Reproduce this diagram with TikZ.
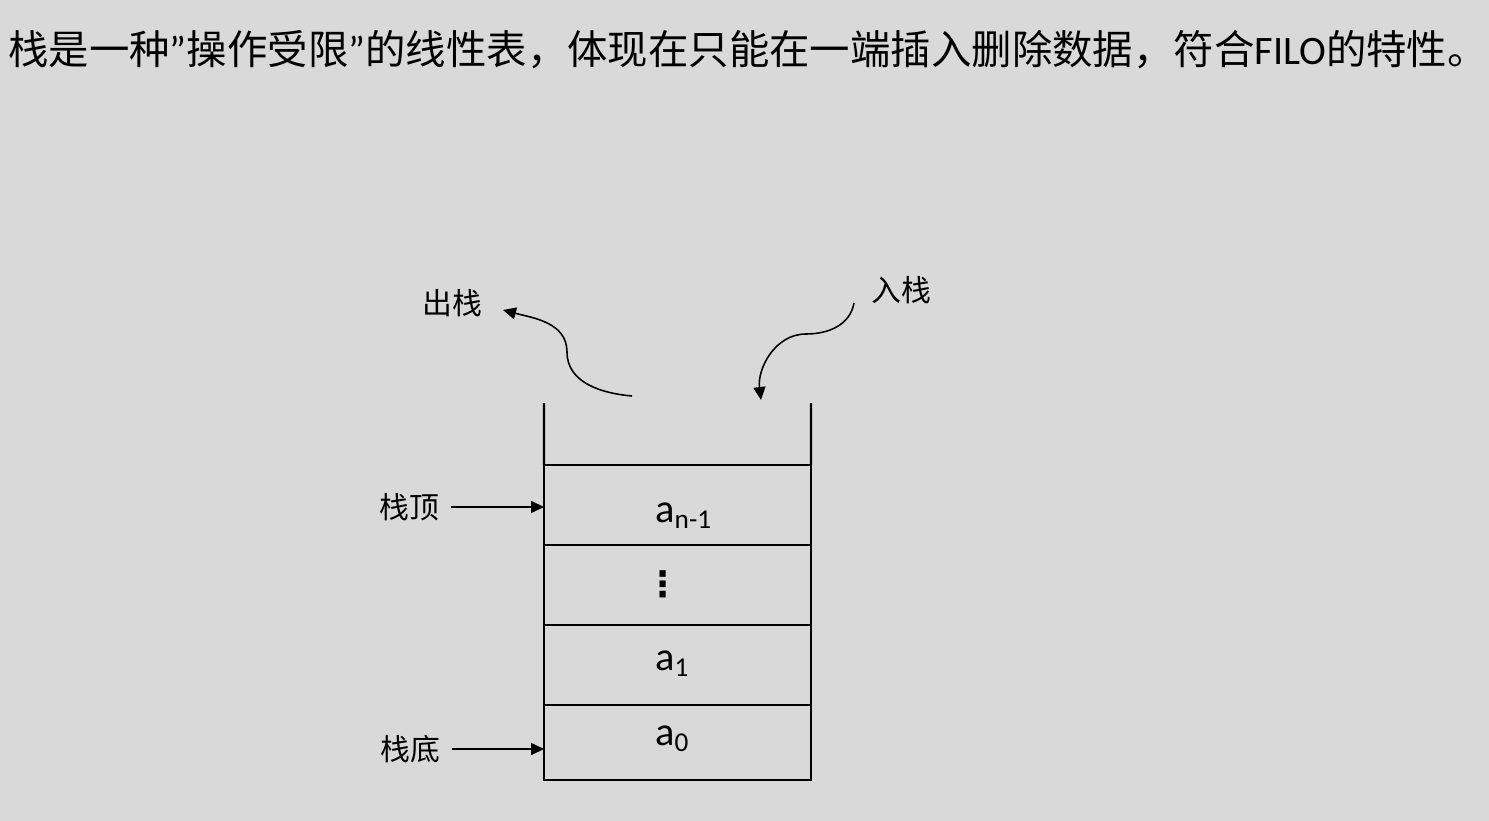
\documentclass[tikz,border=0pt]{standalone}
\usepackage{fontspec}
\setmainfont{Carlito}
\newfontfamily\cjk{Noto Sans CJK SC}
\newfontfamily\symfont{DejaVu Sans}
\usetikzlibrary{arrows.meta}
\definecolor{bgray}{HTML}{D9D9D9}

\begin{document}
\begin{tikzpicture}[x=0.02cm,y=-0.02cm,
  cell/.style={draw,line width=1.2pt,inner sep=0pt,outer sep=0pt,minimum width=5.34cm,minimum height=1.6cm},
  push/.style={line width=0.9pt,-{Triangle[length=2.6mm,width=2.4mm]}},
  lab/.style={font=\cjk\fontsize{17}{17}\selectfont,inner sep=0pt},
  elem/.style={font=\fontsize{23}{23}\selectfont,inner sep=0pt,anchor=base west}]
\fill[bgray] (0,0) rectangle (1489,821);
\useasboundingbox (0,0) rectangle (1489,821);
% title
\node[anchor=west,inner sep=0pt,font=\fontsize{23}{24}\selectfont] (title) at (8,50)
  {{\cjk 栈是一种}”{\cjk 操作受限}”{\cjk 的线性表，体现在只能在一端插入删除数据，符合}FILO{\cjk 的特性。}};
% stack cells
\node[cell] (top) at (677.5,505) {};
\node[cell] (mid) at (677.5,585) {};
\node[cell] (one) at (677.5,665) {};
\node[cell,minimum height=1.5cm] (zero) at (677.5,742.5) {};
\draw[line width=1.2pt] (top.north west) -- (544,403);
\draw[line width=1.2pt] (top.north east) -- (811,403);
% elements
\node[elem] (an) at (655,522) {a\raisebox{-3.5pt}{\fontsize{15.5}{15}\selectfont n-1}};
\node[font=\symfont\fontsize{20}{20}\selectfont\bfseries,inner sep=0pt] (dots) at (663,584) {⋮};
\node[elem] (a1) at (655,670) {a\raisebox{-3.5pt}{\fontsize{15.5}{15}\selectfont 1}};
\node[elem] (a0) at (655,745) {a\raisebox{-3.5pt}{\fontsize{15.5}{15}\selectfont 0}};
% labels
\node[lab] (pop) at (452,303) {出栈};
\node[lab] (pushlab) at (901,290) {入栈};
\node[lab,inner xsep=6.5pt] (toplab) at (409,507) {栈顶};
\node[lab,inner xsep=6.5pt] (botlab) at (410,749) {栈底};
\draw[push] (toplab.east) -- (toplab.east -| top.west);
\draw[push] (botlab.east) -- (botlab.east -| zero.west);
% in and out
\coordinate (popfrom) at (632,396);
\coordinate (popbend) at (567,352);
\coordinate (popto) at (503,310);
\coordinate (pushfrom) at (854,303);
\coordinate (pushbend) at (806,334);
\coordinate (pushto) at (761,400);
\draw[push] (popfrom) to[out=175,in=-90] (popbend) to[out=90,in=-15] (popto);
\draw[push] (pushfrom) to[out=-100,in=0] (pushbend) to[out=180,in=97] (pushto);
\end{tikzpicture}
\end{document}
